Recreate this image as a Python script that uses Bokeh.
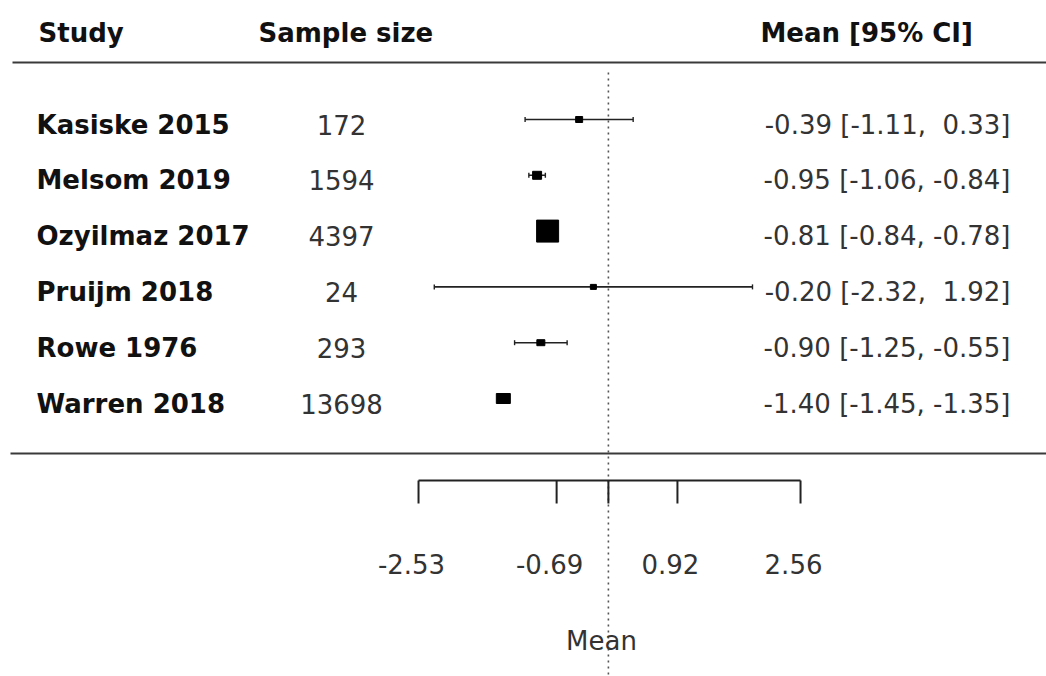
from bokeh.plotting import figure
from bokeh.models import Range1d, ColumnDataSource
from bokeh.core.properties import value
from bokeh.embed import file_html
from bokeh.resources import INLINE

# ---------------- data ----------------
studies = ["Kasiske 2015", "Melsom 2019", "Ozyilmaz 2017", "Pruijm 2018", "Rowe 1976", "Warren 2018"]
sample_size = [172, 1594, 4397, 24, 293, 13698]
mean = [-0.39, -0.95, -0.81, -0.20, -0.90, -1.40]
ci_low = [-1.11, -1.06, -0.84, -2.32, -1.25, -1.45]
ci_high = [0.33, -0.84, -0.78, 1.92, -0.55, -1.35]
axis_ticks = [-2.53, -0.69, 0.0, 0.92, 2.56]
axis_tick_labels = ["-2.53", "-0.69", "", "0.92", "2.56"]
ref_value = 0.0

# ---------------- styles ----------------
box_w = [7, 9, 22, 6, 8, 14]
box_h = [6, 8, 22, 5, 6, 10]
FONT = value("DejaVu Sans")
FS = "26px"

W, H = 1046, 676
PX_PER_UNIT = 75.05
ZERO_PX = 607.9
ROW0_PX = 119.0
ROW_STEP = 55.8


def xd(px):
    return (px - ZERO_PX) / PX_PER_UNIT


def yd(px):
    return (px - ROW0_PX) / ROW_STEP


p = figure(width=W, height=H,
           x_range=Range1d(xd(0), xd(W)), y_range=Range1d(yd(H), yd(0)),
           output_backend="svg", toolbar_location=None, min_border=0,
           x_axis_location=None, y_axis_location=None,
           outline_line_color=None, background_fill_color="white",
           border_fill_color="white")
p.grid.visible = False

rows = list(range(len(studies)))


def fmt(v):
    s = f"{v:5.2f}"
    return s.replace(" ", "\u00a0")


ci_text = [f"{fmt(m)} [{fmt(l)}, {fmt(h)}]" for m, l, h in zip(mean, ci_low, ci_high)]

src = ColumnDataSource(dict(study=studies, n=[str(v) for v in sample_size], mean=mean,
                            lo=ci_low, hi=ci_high, row=rows, ci=ci_text,
                            bw=box_w, bh=box_h))

# reference dotted line
p.segment(x0=[ref_value], y0=[yd(72)], x1=[ref_value], y1=[yd(676)],
          line_color="#555555", line_width=1.6, line_dash="2 4")

# horizontal rules
p.segment(x0=[xd(12), xd(10)], y0=[yd(62), yd(453)], x1=[xd(W), xd(W)], y1=[yd(62), yd(453)],
          line_color="#3a3a3a", line_width=2)

# CI lines and caps
p.segment(x0="lo", y0="row", x1="hi", y1="row", source=src, line_color="#222222", line_width=1.6)
p.scatter(x="lo", y="row", source=src, marker="dash", angle=1.5708, size=5,
          line_color="#222222", line_width=1.4)
p.scatter(x="hi", y="row", source=src, marker="dash", angle=1.5708, size=5,
          line_color="#222222", line_width=1.4)

# boxes
p.rect(x="mean", y="row", width="bw", height="bh", width_units="screen", height_units="screen",
       source=src, fill_color="black", line_color="black")

# texts in rows
p.text(x=xd(36), y="row", text="study", source=src, text_font=FONT, text_font_size=FS,
       text_font_style="bold", text_baseline="middle", text_align="left", text_color="#111111",
       y_offset=5)
p.text(x=xd(341), y="row", text="n", source=src, text_font=FONT, text_font_size=FS,
       text_baseline="middle", text_align="center", text_color="#333333", y_offset=5)
p.text(x=xd(1010), y="row", text="ci", source=src, text_font=FONT, text_font_size=FS,
       text_baseline="middle", text_align="right", text_color="#333333", y_offset=5)

# headers
p.text(x=[xd(38), xd(258), xd(760)], y=[yd(32)] * 3, text=["Study", "Sample size", "Mean [95% CI]"],
       text_font=FONT, text_font_size=FS, text_font_style="bold", text_baseline="middle",
       text_align="left", text_color="#111111")

# custom x axis
p.segment(x0=[min(axis_ticks)], y0=[yd(480)], x1=[max(axis_ticks)], y1=[yd(480)],
          line_color="#222222", line_width=2)
p.segment(x0=axis_ticks, y0=[yd(480)] * len(axis_ticks), x1=axis_ticks,
          y1=[yd(503)] * len(axis_ticks), line_color="#222222", line_width=2)
p.text(x=axis_ticks, y=[yd(563)] * len(axis_ticks), text=axis_tick_labels,
       text_font=FONT, text_font_size=FS, text_baseline="middle", text_align="center",
       text_color="#333333", x_offset=-7)
p.text(x=[xd(601)], y=[yd(640)], text=["Mean"], text_font=FONT, text_font_size=FS,
       text_baseline="middle", text_align="center", text_color="#333333")

open("out.html", "w").write(file_html(p, INLINE))
